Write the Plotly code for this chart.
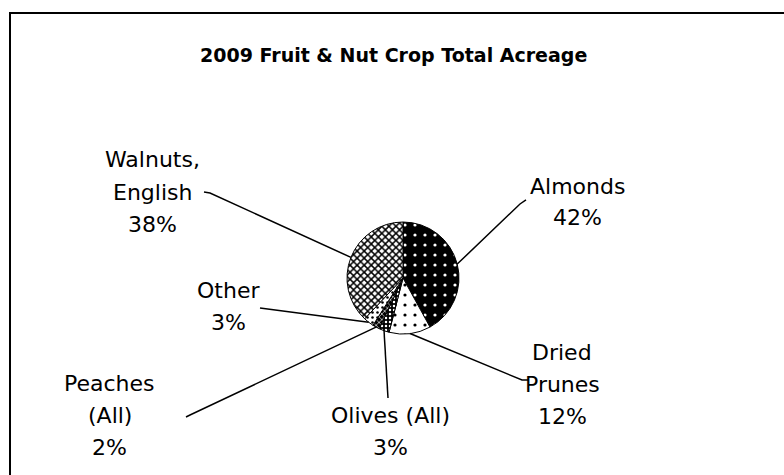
import math
import plotly.graph_objects as go

# ---- data ----
crops = ["Almonds", "Dried Prunes", "Olives (All)", "Peaches (All)", "Other", "Walnuts, English"]
shares = [42, 12, 3, 2, 3, 38]
label_lines = [
    ["Almonds", "42%"],
    ["Dried", "Prunes", "12%"],
    ["Olives (All)", "3%"],
    ["Peaches", "(All)", "2%"],
    ["Other", "3%"],
    ["Walnuts,", "English", "38%"],
]
title_text = "2009 Fruit & Nut Crop Total Acreage"

# ---- layout geometry (pixels) ----
W, H = 784, 475
CX, CY, R = 403, 278, 56
# label centre x, first-line y; leader end points (pixels)
label_pos = [(577, 186), (562, 352), (390, 415), (110, 383), (228, 290), (152, 160)]
leader_end = [
    [(520, 204), (526, 200)],
    [(522, 380), (528, 380)],
    [(388, 398)],
    [(190, 415), (186, 417)],
    [(260, 308)],
    [(210, 193), (204, 192)],
]
LINE_GAP = 32

def px(x):
    return x / W

def py(y):
    return 1 - y / H

fig = go.Figure()
fig.add_trace(go.Pie(
    labels=crops,
    values=shares,
    sort=False,
    direction="clockwise",
    rotation=0,
    textinfo="none",
    hoverinfo="label+percent",
    showlegend=False,
    domain=dict(x=[px(CX - R), px(CX + R)], y=[py(CY + R), py(CY - R)]),
    marker=dict(
        colors=["black", "white", "black", "black", "white", "white"],
        line=dict(color="black", width=1),
        pattern=dict(
            shape=[".", ".", ".", "x", ".", "x"],
            bgcolor=["black", "white", "black", "black", "white", "white"],
            fgcolor=["white", "black", "white", "white", "black", "black"],
            size=[10, 10, 4, 4, 5, 5],
            solidity=[0.08, 0.08, 0.3, 0.3, 0.2, 0.5],
            fillmode="replace",
        ),
    ),
))

shapes = [dict(type="rect", xref="paper", yref="paper",
               x0=px(10), x1=1.05, y0=-0.05, y1=py(13),
               line=dict(color="black", width=2), fillcolor="rgba(0,0,0,0)")]

total = sum(shares)
cum = 0
annotations = []
for i, v in enumerate(shares):
    theta = 2 * math.pi * (cum + v / 2) / total
    cum += v
    ex = CX + R * math.sin(theta)
    ey = CY - R * math.cos(theta)
    pts = [(ex, ey)] + leader_end[i]
    path = "M " + " L ".join(f"{px(x):.5f},{py(y):.5f}" for x, y in pts)
    shapes.append(dict(type="path", xref="paper", yref="paper", path=path,
                       line=dict(color="black", width=1.5)))
    lx, ly = label_pos[i]
    for j, t in enumerate(label_lines[i]):
        annotations.append(dict(x=px(lx), y=py(ly + j * LINE_GAP), xref="paper", yref="paper",
                                text=t, showarrow=False, xanchor="center", yanchor="middle",
                                font=dict(family="DejaVu Sans", size=22, color="black")))

annotations.append(dict(x=px(393), y=py(55), xref="paper", yref="paper", text=f"<b>{title_text}</b>",
                        showarrow=False, xanchor="center", yanchor="middle",
                        font=dict(family="DejaVu Sans", size=19, color="black")))

fig.update_layout(
    width=W, height=H,
    margin=dict(l=0, r=0, t=0, b=0),
    paper_bgcolor="white", plot_bgcolor="white",
    shapes=shapes, annotations=annotations,
)
fig.write_html("out.html",
               config={"displayModeBar": False},
               post_script="document.body.style.margin='0';document.body.style.overflow='hidden';")
